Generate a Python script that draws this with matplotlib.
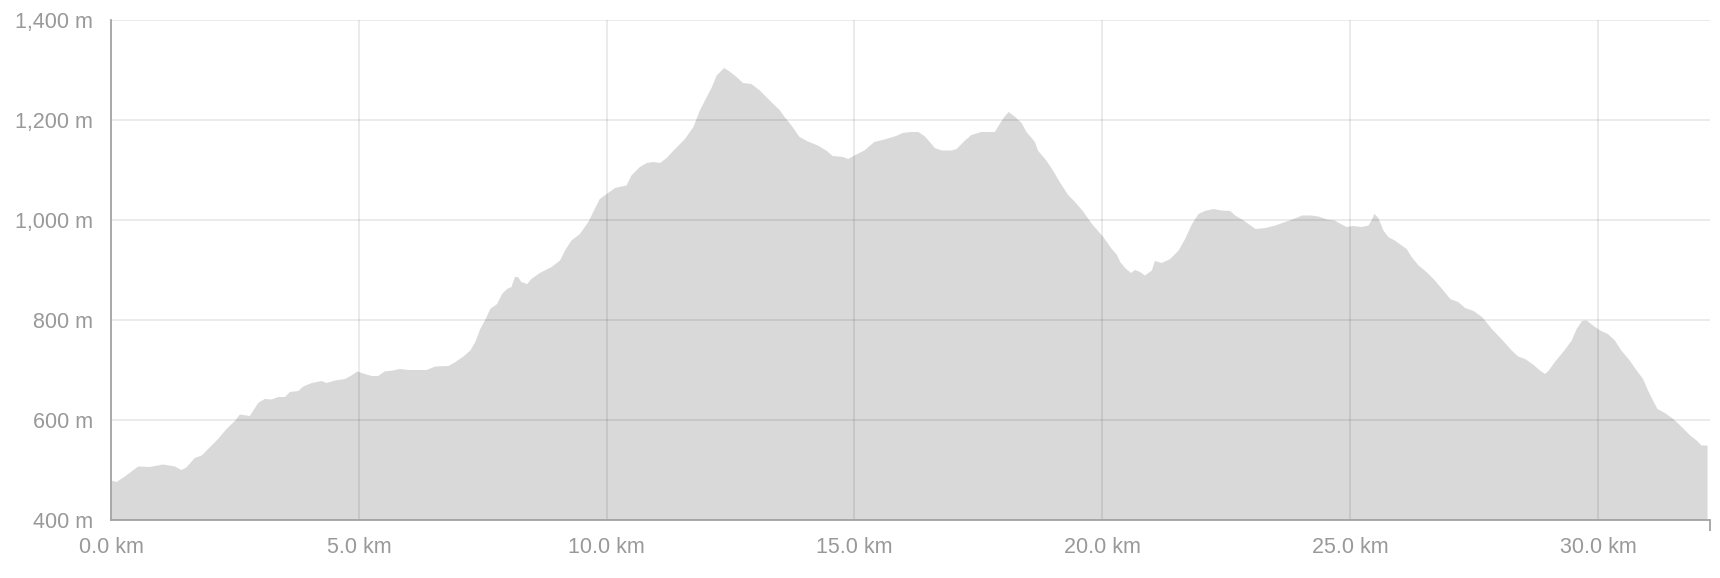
import numpy as np
import matplotlib
matplotlib.use("Agg")
import matplotlib.pyplot as plt
from matplotlib.ticker import FuncFormatter, FixedLocator

# elevation profile, in chunks along the route
km = [0.0, 0.10, 0.27, 0.54, 0.77, 1.04, 1.28, 1.41, 1.51, 1.68, 1.82, 2.15, 2.32, 2.49, 2.59, 2.79, 2.96, 3.09, 3.23, 3.36, 3.50, 3.60, 3.77, 3.87, 4.04,
      4.24, 4.34, 4.51, 4.71, 4.84, 4.96, 5.11, 5.25, 5.38, 5.51, 5.68, 5.82, 5.99, 6.36, 6.53, 6.80, 6.94, 7.10, 7.24, 7.34, 7.44, 7.54, 7.64, 7.78, 7.88, 7.98,
      8.07, 8.14, 8.20, 8.27, 8.39, 8.47, 8.64, 8.88, 9.05, 9.15, 9.28, 9.45, 9.62, 9.75, 9.85, 9.99, 10.16, 10.39, 10.49, 10.66, 10.80, 10.93, 11.07, 11.20, 11.37, 11.57, 11.74, 11.87, 12.01,
      12.11, 12.21, 12.31, 12.36, 12.47, 12.61, 12.74, 12.91, 13.08, 13.21, 13.35, 13.48, 13.58, 13.72, 13.88, 14.05, 14.25, 14.42, 14.55, 14.76, 14.86, 14.99, 15.19, 15.39, 15.63, 15.83, 15.96, 16.13,
      16.28, 16.41, 16.51, 16.61, 16.75, 16.95, 17.05, 17.22, 17.35, 17.55, 17.82, 17.92, 18.02, 18.10, 18.22, 18.36, 18.46, 18.63, 18.69, 18.86, 19.00, 19.13, 19.30, 19.44, 19.61, 19.78, 20.01,
      20.18, 20.28, 20.35, 20.45, 20.57, 20.65, 20.75, 20.85, 20.99, 21.05, 21.19, 21.36, 21.53, 21.66, 21.80, 21.93, 22.06, 22.23, 22.40, 22.57, 22.67, 22.84, 23.08, 23.28, 23.48, 23.68, 23.85, 24.02,
      24.21, 24.35, 24.52, 24.68, 24.82, 24.92, 25.05, 25.22, 25.36, 25.42, 25.48, 25.56, 25.66, 25.76, 25.89, 26.03, 26.13, 26.23, 26.37, 26.53, 26.70, 26.87, 27.01, 27.17, 27.31, 27.48, 27.65, 27.85, 28.05,
      28.25, 28.38, 28.52, 28.68, 28.82, 28.92, 28.99, 29.12, 29.32, 29.46, 29.56, 29.67, 29.76, 29.89, 30.03, 30.19, 30.33, 30.46, 30.63, 30.77, 30.90, 31.00, 31.10, 31.19, 31.34, 31.51, 31.68, 31.85, 31.98, 32.08, 32.20]

elev = [480, 477, 488, 508, 507, 512, 508, 501, 506, 525, 530, 563, 583, 599, 612, 609, 635, 643, 642, 647, 647, 657, 659, 668, 675,
        679, 675, 680, 683, 690, 698, 693, 689, 689, 698, 700, 703, 701, 701, 708, 709, 717, 728, 740, 757, 783, 801, 823, 833, 853, 863,
        867, 887, 887, 877, 873, 883, 895, 907, 920, 940, 960, 973, 997, 1023, 1043, 1053, 1065, 1070, 1090, 1107, 1115, 1117, 1115, 1125, 1143, 1163, 1187, 1220, 1247,
        1266, 1290, 1300, 1305, 1298, 1287, 1275, 1273, 1260, 1247, 1233, 1221, 1207, 1190, 1167, 1158, 1150, 1140, 1129, 1127, 1123, 1130, 1140, 1157, 1163, 1169, 1175, 1177,
        1177, 1168, 1157, 1145, 1140, 1140, 1143, 1160, 1171, 1177, 1177, 1193, 1208, 1217, 1208, 1195, 1177, 1157, 1140, 1120, 1099, 1077, 1051, 1037, 1017, 993, 967,
        943, 932, 917, 905, 895, 901, 897, 890, 900, 919, 915, 923, 940, 963, 993, 1013, 1019, 1023, 1020, 1019, 1010, 1000, 983, 985, 990, 997, 1003, 1010,
        1010, 1008, 1002, 1000, 992, 987, 989, 987, 990, 1000, 1013, 1005, 980, 967, 960, 950, 943, 927, 910, 897, 880, 860, 843, 837, 825, 819, 807, 783, 762,
        740, 728, 723, 712, 700, 693, 699, 717, 741, 760, 783, 799, 800, 790, 780, 773, 760, 740, 720, 700, 683, 660, 640, 623, 615, 603, 587, 570, 560, 550, 550]

x_ticks = [0, 5, 10, 15, 20, 25, 30]
y_ticks = [400, 600, 800, 1000, 1200, 1400]
X_MAX = 32.26

AXIS_COL = "#a3a3a3"
TEXT_COL = "#999999"

plt.rcParams['font.family'] = ['Liberation Sans', 'DejaVu Sans']

fig = plt.figure(figsize=(17.2, 5.78), dpi=100)
ax = fig.add_axes([111 / 1720, 1 - 520 / 578, (1710 - 111) / 1720, 500 / 578])

ax.fill_between(km, elev, 400, color="#d9d9d9", lw=0, zorder=1)

ax.set_xlim(0, X_MAX)
ax.set_ylim(400, 1400)
ax.set_xticks(x_ticks)
ax.set_yticks(y_ticks)
ax.xaxis.set_major_formatter(FuncFormatter(lambda v, p: f"{v:.1f} km"))
ax.yaxis.set_major_formatter(FuncFormatter(lambda v, p: f"{v:,.0f} m"))

ax.grid(True, color="black", alpha=0.08, lw=1.4)
ax.set_axisbelow(False)

for s in ["top", "right"]:
    ax.spines[s].set_visible(False)
for s in ["left", "bottom"]:
    ax.spines[s].set_color(AXIS_COL)
    ax.spines[s].set_linewidth(1.3)
    ax.spines[s].set_zorder(3)

# only the two outer ticks on each axis are drawn
ax.xaxis.set_minor_locator(FixedLocator([0, X_MAX]))
ax.yaxis.set_minor_locator(FixedLocator([400, 1400]))
ax.tick_params(which="major", length=0, labelsize=15.5, labelcolor=TEXT_COL)
ax.tick_params(axis="y", which="major", pad=13)
ax.tick_params(axis="x", which="major", pad=12)
ax.tick_params(which="minor", length=8, width=1.3, color=AXIS_COL)

fig.savefig("out.png", dpi=100, facecolor="white")
